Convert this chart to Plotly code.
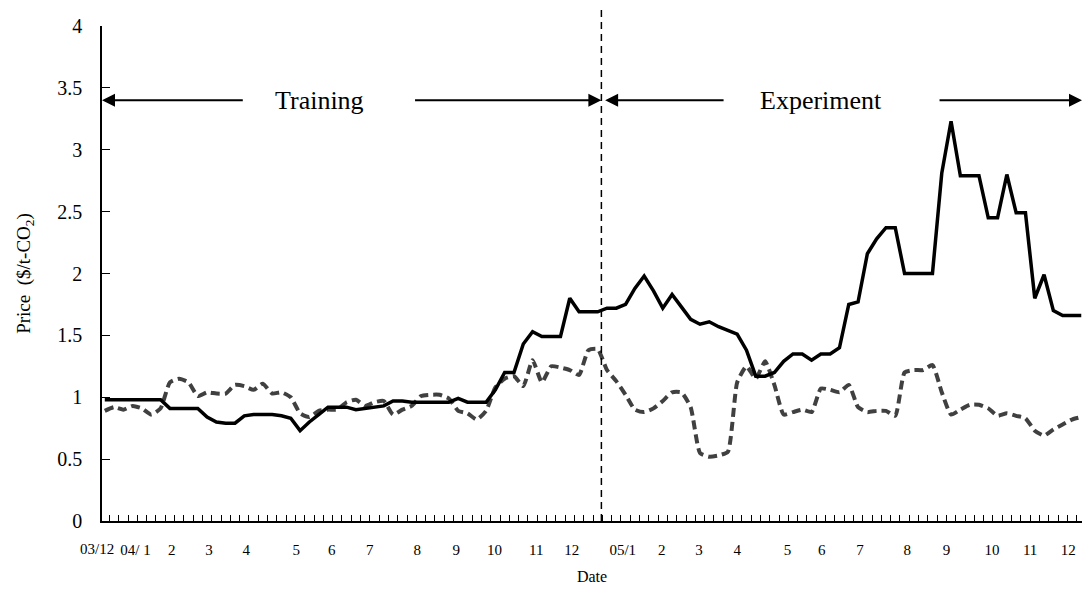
import plotly.graph_objects as go

# Weekly price series, Dec 2003 - Dec 2005 (index = week number)
week = list(range(106))

observed = [
    0.98, 0.98, 0.98, 0.98, 0.98, 0.98, 0.98, 0.91, 0.91, 0.91,
    0.91, 0.84, 0.80, 0.79, 0.79, 0.85, 0.86, 0.86, 0.86, 0.85,
    0.83, 0.73, 0.80, 0.86, 0.92, 0.92, 0.92, 0.90, 0.91, 0.92,
    0.93, 0.97, 0.97, 0.96, 0.96, 0.96, 0.96, 0.96, 0.99, 0.96,
    0.96, 0.96, 1.06, 1.20, 1.20, 1.43, 1.53, 1.49, 1.49, 1.49,
    1.80, 1.69, 1.69, 1.69, 1.72, 1.72, 1.75, 1.88, 1.98, 1.86,
    1.72, 1.83, 1.73, 1.63, 1.59, 1.61, 1.57, 1.54, 1.51, 1.38,
    1.17, 1.17, 1.20, 1.29, 1.35, 1.35, 1.30, 1.35, 1.35, 1.40,
    1.75, 1.77, 2.16, 2.28, 2.37, 2.37, 2.00, 2.00, 2.00, 2.00,
    2.81, 3.23, 2.79, 2.79, 2.79, 2.45, 2.45, 2.80, 2.49, 2.49,
    1.80, 1.99, 1.70, 1.66, 1.66, 1.66,
]

simulated = [
    0.89, 0.92, 0.90, 0.93, 0.91, 0.86, 0.91, 1.12, 1.15, 1.12,
    1.01, 1.04, 1.03, 1.03, 1.10, 1.09, 1.06, 1.11, 1.03, 1.04,
    1.00, 0.87, 0.84, 0.89, 0.90, 0.90, 0.96, 0.98, 0.93, 0.96,
    0.97, 0.86, 0.90, 0.93, 1.01, 1.02, 1.02, 0.99, 0.89, 0.87,
    0.82, 0.89, 1.08, 1.15, 1.17, 1.09, 1.30, 1.12, 1.25, 1.24,
    1.22, 1.18, 1.38, 1.39, 1.22, 1.13, 1.02, 0.90, 0.88, 0.91,
    0.97, 1.04, 1.04, 0.92, 0.55, 0.52, 0.53, 0.56, 1.12, 1.25,
    1.15, 1.29, 1.10, 0.86, 0.88, 0.90, 0.88, 1.07, 1.06, 1.04,
    1.10, 0.92, 0.88, 0.89, 0.89, 0.85, 1.20, 1.22, 1.22, 1.26,
    1.04, 0.86, 0.90, 0.94, 0.94, 0.91, 0.85, 0.87, 0.85, 0.83,
    0.73, 0.69, 0.74, 0.78, 0.82, 0.84,
]

# Month labels along the date axis; the first one sits just left of the axis start
first_label = "03/12"
month_labels = ["04/ 1", "2", "3", "4", "5", "6", "7", "8", "9", "10", "11", "12",
                "05/1", "2", "3", "4", "5", "6", "7", "8", "9", "10", "11", "12"]
month_pos = [3.3, 7.2, 11.2, 15.2, 20.6, 24.4, 28.5, 33.6, 37.8, 41.9, 46.4, 50.2,
             55.7, 59.9, 63.9, 68.0, 73.4, 77.1, 81.2, 86.3, 90.5, 95.4, 99.5, 103.6]

y_ticks = [0, 0.5, 1, 1.5, 2, 2.5, 3, 3.5, 4]
y_tick_text = ["0", "0.5", "1", "1.5", "2", "2.5", "3", "3.5", "4"]

# Period split and the period arrows
split_week = 53.4
x_start, x_end = -0.3, 105.08
arrow_level = 3.4
periods = [
    # label, label position, left arrow (tip, tail), right arrow (tail, tip)
    ("Training", 23.1, (x_start, 15.0), (33.2, split_week)),
    ("Experiment", 77.0, (53.8, 66.7), (89.6, x_end)),
]

FONT = "Liberation Serif"

fig = go.Figure()

fig.add_trace(go.Scatter(
    x=week, y=simulated, mode="lines",
    line=dict(color="#404040", width=4, dash="9px,5px", shape="spline", smoothing=0.5),
    showlegend=False,
))
fig.add_trace(go.Scatter(
    x=week, y=observed, mode="lines",
    line=dict(color="black", width=3.5),
    showlegend=False,
))

# Vertical split line between the two periods
fig.add_shape(type="line", x0=split_week, x1=split_week, xref="x",
              y0=0, y1=1.036, yref="paper",
              line=dict(color="black", width=1.5, dash="7px,5px"))

annotations = []
for label, label_x, (ltip, ltail), (rtip_tail, rtip) in periods:
    annotations.append(dict(x=label_x, y=arrow_level, xref="x", yref="y",
                            text=label, showarrow=False,
                            font=dict(family=FONT, size=26, color="black"),
                            xanchor="center", yanchor="middle"))
    for tip, tail in ((ltip, ltail), (rtip, rtip_tail)):
        annotations.append(dict(x=tip, y=arrow_level, xref="x", yref="y",
                                ax=tail, ay=arrow_level, axref="x", ayref="y",
                                text="", showarrow=True, arrowhead=2,
                                arrowsize=1.3, arrowwidth=2, arrowcolor="black"))

# First month label lies outside the x range, so it is placed in paper units
annotations.append(dict(x=-0.0046, y=-0.057, xref="paper", yref="paper",
                        text=first_label, showarrow=False,
                        font=dict(family=FONT, size=15, color="black"),
                        xanchor="center", yanchor="middle"))

fig.update_layout(
    width=1082, height=590,
    margin=dict(l=102, r=0, t=26, b=69),
    plot_bgcolor="white", paper_bgcolor="white",
    font=dict(family=FONT, color="black"),
    annotations=annotations,
    xaxis=dict(
        range=[x_start, x_end],
        showline=True, linecolor="black", linewidth=1.5,
        showgrid=False, zeroline=False,
        tickmode="array", tickvals=month_pos, ticktext=month_labels,
        ticks="", ticklabelstandoff=14,
        tickfont=dict(family=FONT, size=15, color="black"),
        minor=dict(ticks="inside", ticklen=6, tickcolor="black", tickwidth=1,
                   tick0=0.5, dtick=1, showgrid=False),
        title=dict(text="Date", font=dict(family=FONT, size=16, color="black"), standoff=14),
    ),
    yaxis=dict(
        range=[0, 4],
        showline=True, linecolor="black", linewidth=1.5,
        showgrid=False, zeroline=False,
        tickmode="array", tickvals=y_ticks, ticktext=y_tick_text,
        ticks="inside", ticklen=8, tickcolor="black", tickwidth=1,
        ticklabelstandoff=14,
        tickfont=dict(family=FONT, size=20, color="black"),
        title=dict(text="Price  ($/t-CO<sub>2</sub>)",
                   font=dict(family=FONT, size=19, color="black"), standoff=22),
    ),
)

fig.write_html("out.html")
